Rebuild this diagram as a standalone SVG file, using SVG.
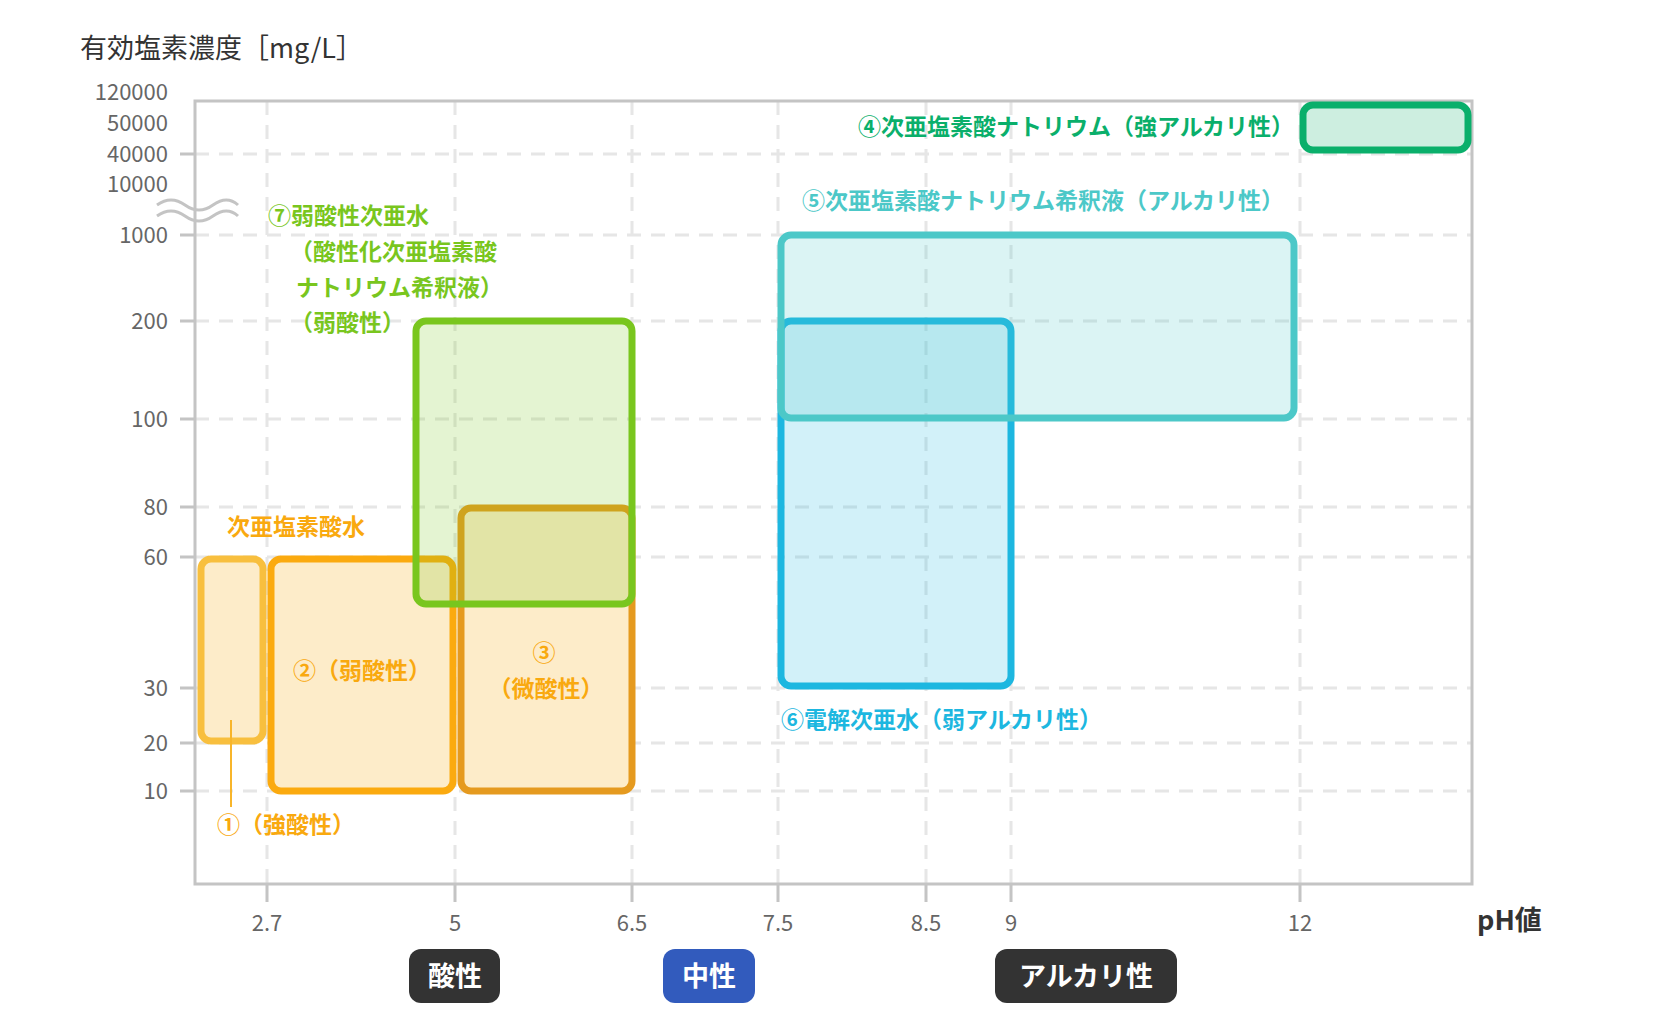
<svg xmlns="http://www.w3.org/2000/svg" width="1660" height="1036" viewBox="0 0 1660 1036">
<style>
.grid{stroke:#e6e6e6;stroke-width:3;stroke-dasharray:14 10;fill:none}
.tick{stroke:#c4c4c4;stroke-width:3}
.tl{font-family:"Noto Sans CJK JP","Noto Sans",sans-serif;font-size:22px;fill:#666}
.lab{font-family:"Noto Sans CJK JP",sans-serif;font-size:23px;font-weight:bold}
.badge{font-family:"Noto Sans CJK JP",sans-serif;font-size:27px;font-weight:bold;fill:#fff}
.r{stroke-width:7}
</style>
<rect width="1660" height="1036" fill="#fff"/>
<g id="grid">
<path class="grid" d="M195 154H1472M195 235H1472M195 321H1472M195 419H1472M195 507H1472M195 557H1472M195 688H1472M195 743H1472M195 791H1472"/>
<path class="grid" d="M267 101V884M455 101V884M632 101V884M778 101V884M926 101V884M1011 101V884M1300 101V884"/>
</g>
<g id="axes">
<path d="M195 101H1472V884H195Z" fill="none" stroke="#c4c4c4" stroke-width="3"/>
<path class="tick" d="M180 154H195M180 235H195M180 321H195M180 419H195M180 507H195M180 557H195M180 688H195M180 743H195M180 791H195"/>
<path class="tick" d="M267 884V902M455 884V902M632 884V902M778 884V902M926 884V902M1011 884V902M1300 884V902"/>
<path d="M157 205q14-10 28 0t28 0t25 0M157 216q14-10 28 0t28 0t25 0" fill="none" stroke="#c4c4c4" stroke-width="3"/>
<g class="tl" text-anchor="end">
<text x="168" y="100">120000</text><text x="168" y="131">50000</text><text x="168" y="162">40000</text><text x="168" y="192">10000</text>
<text x="168" y="243">1000</text><text x="168" y="329">200</text><text x="168" y="427">100</text><text x="168" y="515">80</text><text x="168" y="565">60</text><text x="168" y="696">30</text><text x="168" y="751">20</text><text x="168" y="799">10</text>
</g>
<g class="tl" text-anchor="middle">
<text x="267" y="931">2.7</text><text x="455" y="931">5</text><text x="632" y="931">6.5</text><text x="778" y="931">7.5</text><text x="926" y="931">8.5</text><text x="1011" y="931">9</text><text x="1300" y="931">12</text>
</g>
<text x="80" y="58" style="font-family:'Noto Sans CJK JP',sans-serif;font-size:27px;fill:#333">有効塩素濃度［mg/L］</text>
<text x="1477" y="930" style="font-family:'Noto Sans CJK JP',sans-serif;font-size:27px;font-weight:bold;fill:#333">pH値</text>
</g>
<g id="n1"><rect class="r" x="201" y="559" width="62" height="182" rx="10" fill="#fdecc9" stroke="#f8bf3e"/>
<line x1="231" y1="720" x2="231" y2="807" stroke="#f8b52a" stroke-width="2"/>
<text class="lab" x="217" y="833" fill="#f9a90f">①（強酸性）</text></g>
<g id="n2"><rect class="r" x="271" y="559" width="182" height="232" rx="10" fill="#fdecc9" stroke="#fbaa0f"/>
<text class="lab" x="362" y="679" text-anchor="middle" fill="#f9a90f">②（弱酸性）</text></g>
<g id="n3"><rect class="r" x="461" y="508" width="171" height="283" rx="10" fill="#fdecc9" stroke="#e59a1f"/>
<text class="lab" x="544" y="661" text-anchor="middle" fill="#f9a90f">③</text>
<text class="lab" x="546" y="697" text-anchor="middle" fill="#f9a90f">（微酸性）</text></g>
<text class="lab" x="227" y="535" fill="#f9a90f">次亜塩素酸水</text>
<g id="n7"><rect class="r" x="416" y="321" width="216" height="283" rx="10" fill="#79c61e" fill-opacity="0.2" stroke="#79c61e"/>
<text class="lab" x="268" y="224" fill="#79c61e">⑦弱酸性次亜水</text>
<text class="lab" x="290" y="260" fill="#79c61e">（酸性化次亜塩素酸</text>
<text class="lab" x="296" y="296" fill="#79c61e">ナトリウム希釈液）</text>
<text class="lab" x="290" y="331" fill="#79c61e">（弱酸性）</text></g>
<g id="n6"><rect class="r" x="781" y="321" width="230" height="365" rx="10" fill="#1db7e0" fill-opacity="0.2" stroke="#1db7e0"/>
<text class="lab" x="781" y="728" fill="#1db7e0">⑥電解次亜水（弱アルカリ性）</text></g>
<g id="n5"><rect class="r" x="781" y="235" width="513" height="183" rx="10" fill="#4cc8c8" fill-opacity="0.2" stroke="#4cc8c8"/>
<text class="lab" x="802" y="209" fill="#4cc8c8">⑤次亜塩素酸ナトリウム希釈液（アルカリ性）</text></g>
<g id="n4"><rect class="r" x="1303" y="105" width="165" height="45" rx="10" fill="#cdeee0" stroke="#0aaf6b"/>
<text class="lab" x="1294" y="135" text-anchor="end" fill="#0aaf6b">④次亜塩素酸ナトリウム（強アルカリ性）</text></g>
<g id="badges">
<rect x="409" y="949" width="91" height="54" rx="12" fill="#333"/><text class="badge" x="455" y="986" text-anchor="middle">酸性</text>
<rect x="663" y="949" width="92" height="54" rx="12" fill="#325bbd"/><text class="badge" x="709" y="986" text-anchor="middle">中性</text>
<rect x="995" y="949" width="182" height="54" rx="12" fill="#333"/><text class="badge" x="1086" y="986" text-anchor="middle">アルカリ性</text>
</g>
</svg>
